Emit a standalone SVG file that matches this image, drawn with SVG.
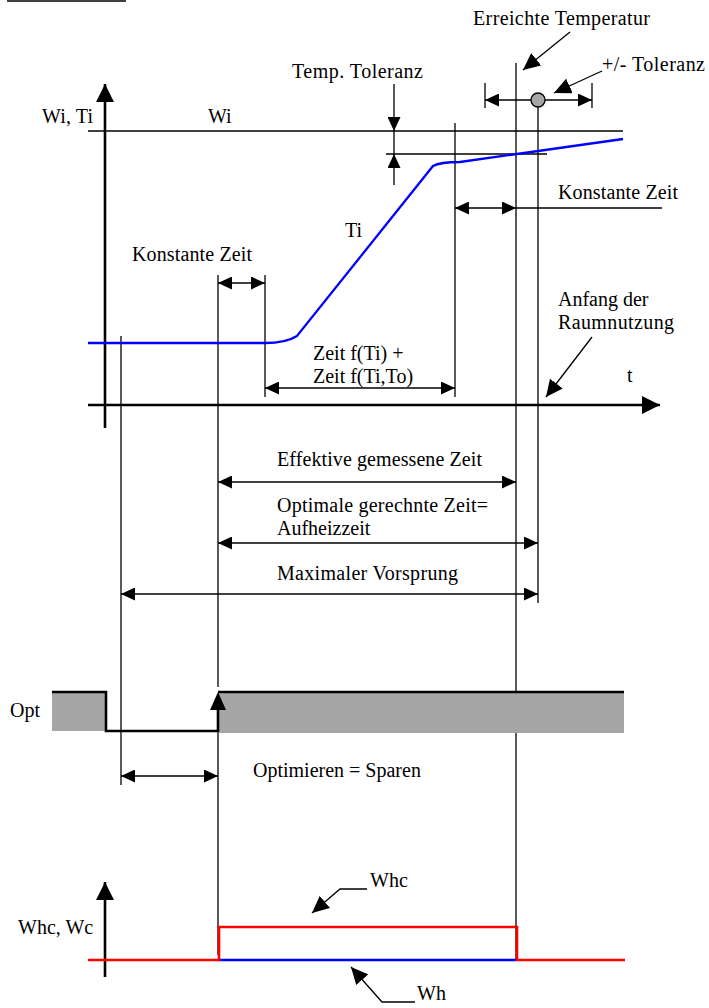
<svg xmlns="http://www.w3.org/2000/svg" width="709" height="1008" viewBox="0 0 709 1008">
<style>
text{font-family:"Liberation Serif","Tinos","DejaVu Serif","Noto Serif","Times New Roman",serif;font-size:20px;fill:#000}
.thin{stroke:#000;stroke-width:1.3;fill:none}
.axis{stroke:#000;stroke-width:2.6;fill:none}
.dim{stroke:#000;stroke-width:1.3;fill:none;marker-start:url(#ah);marker-end:url(#ah)}
.one{stroke:#000;stroke-width:1.3;fill:none;marker-end:url(#ah)}
.lead{stroke:#000;stroke-width:1.3;fill:none;marker-end:url(#lh)}
</style>
<defs>
<marker id="ah" markerUnits="userSpaceOnUse" markerWidth="15" markerHeight="13" refX="14" refY="6.5" orient="auto-start-reverse"><path d="M0,0 L14,6.5 L0,13 z" fill="#000"/></marker>
<marker id="lh" markerUnits="userSpaceOnUse" markerWidth="18" markerHeight="16" refX="17" refY="8" orient="auto"><path d="M0,0 L17,8 L0,16 z" fill="#000"/></marker>
<marker id="axh" markerUnits="userSpaceOnUse" markerWidth="19" markerHeight="18" refX="18" refY="9" orient="auto"><path d="M0,0 L18,9 L0,18 z" fill="#000"/></marker>
</defs>
<g id="title-underline"><line x1="7" y1="1" x2="126" y2="1" class="thin" stroke-width="1.6"/></g>
<g id="connectors">
<line x1="105" y1="428" x2="105" y2="84" class="axis" marker-end="url(#axh)"/>
<line x1="88" y1="405" x2="660" y2="405" class="axis" marker-end="url(#axh)"/>
<line x1="88" y1="131" x2="623" y2="131" class="thin"/>
<line x1="386" y1="154" x2="547" y2="154" class="thin"/>
<line x1="121" y1="336" x2="121" y2="785" class="thin"/>
<line x1="218" y1="275" x2="218" y2="687" class="thin"/>
<line x1="218" y1="731" x2="218" y2="955" class="thin"/>
<line x1="265" y1="275" x2="265" y2="397" class="thin"/>
<line x1="455" y1="123" x2="455" y2="397" class="thin"/>
<line x1="516" y1="63" x2="516" y2="960" class="thin"/>
<line x1="538" y1="100" x2="538" y2="603" class="thin"/>
<line x1="394" y1="84" x2="394" y2="131" class="one"/>
<line x1="394" y1="185" x2="394" y2="154" class="one"/>
<line x1="394" y1="131" x2="394" y2="154" class="thin"/>
<line x1="485" y1="100" x2="592" y2="100" class="dim"/>
<line x1="485" y1="83" x2="485" y2="108" class="thin"/>
<line x1="592" y1="83" x2="592" y2="108" class="thin"/>
<circle cx="538" cy="100" r="7" fill="#a6a6a6" stroke="#000" stroke-width="1.3"/>
<line x1="570" y1="32" x2="523" y2="70" class="lead"/>
<line x1="602" y1="71" x2="554" y2="93" class="lead"/>
<line x1="592" y1="337" x2="546" y2="397" class="lead"/>
<line x1="218" y1="283" x2="265" y2="283" class="dim"/>
<line x1="265" y1="388" x2="455" y2="388" class="dim"/>
<line x1="455" y1="208" x2="516" y2="208" class="dim"/>
<line x1="516" y1="208" x2="662" y2="208" class="thin"/>
<line x1="218" y1="482" x2="516" y2="482" class="dim"/>
<line x1="218" y1="543" x2="538" y2="543" class="dim"/>
<line x1="121" y1="594" x2="538" y2="594" class="dim"/>
<line x1="121" y1="776" x2="218" y2="776" class="dim"/>
<path d="M88,343 L265,343 Q286,343 297,336 L433,166 Q440,162 460,162 L623,139" fill="none" stroke="#0000ff" stroke-width="2.3"/>
<rect x="52" y="692" width="54" height="39" fill="#a6a6a6"/>
<rect x="218" y="692" width="406" height="41" fill="#a6a6a6"/>
<polyline points="52,692 106,692 106,731 218,731 218,708" class="axis"/>
<polygon points="218,692 210,710 226,710" fill="#000"/>
<line x1="218" y1="692" x2="624" y2="692" class="axis"/>
<line x1="105" y1="977" x2="105" y2="882" class="axis" marker-end="url(#axh)"/>
<line x1="218" y1="960" x2="516" y2="960" stroke="#0000ff" stroke-width="2.6"/>
<polyline points="88,960 219,960 219,927 517,927 517,960 625,960" fill="none" stroke="#ff0000" stroke-width="2.6"/>
<polyline points="367,889 340,889 312,913" class="lead"/>
<polyline points="415,1002 382,1002 351,967" class="lead"/>
</g>
<g id="labels" font-family="Liberation Serif, serif">
<text x="473" y="25" textLength="177">Erreichte Temperatur</text>
<text x="602" y="71" textLength="103">+/- Toleranz</text>
<text x="292" y="78" textLength="131">Temp. Toleranz</text>
<text x="42" y="123" textLength="51">Wi, Ti</text>
<text x="208" y="123">Wi</text>
<text x="345" y="237">Ti</text>
<text x="132" y="261" textLength="120">Konstante Zeit</text>
<text x="558" y="199" textLength="120">Konstante Zeit</text>
<text x="558" y="306">Anfang der</text>
<text x="558" y="329" textLength="116">Raumnutzung</text>
<text x="313" y="360">Zeit f(Ti) +</text>
<text x="313" y="383">Zeit f(Ti,To)</text>
<text x="627" y="382">t</text>
<text x="277" y="466" textLength="205">Effektive gemessene Zeit</text>
<text x="277" y="512" textLength="211">Optimale gerechnte Zeit=</text>
<text x="277" y="535">Aufheizzeit</text>
<text x="277" y="580" textLength="181">Maximaler Vorsprung</text>
<text x="10" y="717">Opt</text>
<text x="253" y="777">Optimieren = Sparen</text>
<text x="18" y="934">Whc, Wc</text>
<text x="370" y="887">Whc</text>
<text x="417" y="1000">Wh</text>
</g>
</svg>
